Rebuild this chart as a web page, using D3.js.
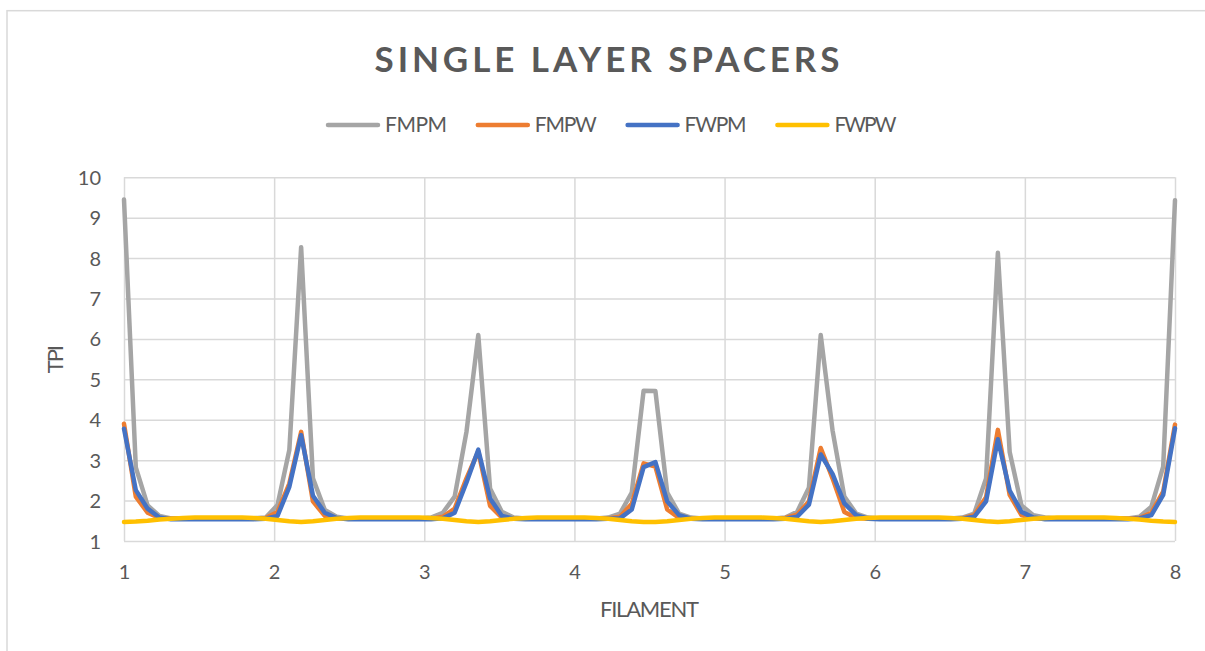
<!DOCTYPE html>
<html>
<head>
<meta charset="utf-8">
<script src="https://cdn.jsdelivr.net/npm/d3@7"></script>
<style>
  html, body { margin: 0; padding: 0; background: #ffffff; }
  svg { display: block; }
  text { font-family: Lato, "Open Sans", sans-serif; fill: #595959; }
</style>
</head>
<body>
<svg id="chart" width="1205" height="651"></svg>
<script>
// Filament axis ticks and TPI axis ticks
const filamentTicks = [1, 2, 3, 4, 5, 6, 7, 8];
const tpiTicks = [1, 2, 3, 4, 5, 6, 7, 8, 9, 10];
const seriesNames = ["FMPM", "FMPW", "FWPM", "FWPW"];
const seriesColors = ["#A5A5A5", "#ED7D31", "#4472C4", "#FFC000"];

// TPI readings, 90 samples spread evenly from filament 1 to filament 8
const fmpm = [
  9.45, 2.82, 1.88, 1.62, 1.56, 1.56, 1.56, 1.56, 1.56, 1.56,
  1.56, 1.56, 1.58, 1.89, 3.25, 8.27, 2.55, 1.77, 1.60, 1.56,
  1.56, 1.56, 1.56, 1.56, 1.56, 1.56, 1.58, 1.70, 2.10, 3.70,
  6.10, 2.30, 1.72, 1.58, 1.56, 1.56, 1.56, 1.56, 1.56, 1.56,
  1.56, 1.58, 1.68, 2.20, 4.72, 4.71, 2.20, 1.68, 1.58, 1.56,
  1.56, 1.56, 1.56, 1.56, 1.56, 1.56, 1.58, 1.72, 2.32, 6.10,
  3.74, 2.10, 1.68, 1.58, 1.56, 1.56, 1.56, 1.56, 1.56, 1.56,
  1.56, 1.58, 1.68, 2.55, 8.13, 3.20, 1.88, 1.64, 1.58, 1.56,
  1.56, 1.56, 1.56, 1.56, 1.56, 1.56, 1.60, 1.85, 2.84, 9.43
];
const fmpw = [
  3.90, 2.10, 1.70, 1.57, 1.55, 1.55, 1.55, 1.55, 1.55, 1.55,
  1.55, 1.55, 1.57, 1.72, 2.42, 3.70, 1.98, 1.62, 1.56, 1.55,
  1.55, 1.55, 1.55, 1.55, 1.55, 1.55, 1.55, 1.60, 1.80, 2.55,
  3.22, 1.87, 1.58, 1.55, 1.55, 1.55, 1.55, 1.55, 1.55, 1.55,
  1.55, 1.56, 1.60, 1.92, 2.92, 2.84, 1.78, 1.57, 1.55, 1.55,
  1.55, 1.55, 1.55, 1.55, 1.55, 1.55, 1.57, 1.65, 1.98, 3.30,
  2.55, 1.72, 1.57, 1.55, 1.55, 1.55, 1.55, 1.55, 1.55, 1.55,
  1.55, 1.56, 1.64, 2.08, 3.75, 2.14, 1.64, 1.56, 1.55, 1.55,
  1.55, 1.55, 1.55, 1.55, 1.55, 1.55, 1.57, 1.70, 2.22, 3.88
];
const fwpm = [
  3.78, 2.26, 1.80, 1.58, 1.54, 1.54, 1.54, 1.54, 1.54, 1.54,
  1.54, 1.54, 1.55, 1.62, 2.34, 3.62, 2.12, 1.70, 1.57, 1.54,
  1.54, 1.54, 1.54, 1.54, 1.54, 1.54, 1.54, 1.56, 1.70, 2.45,
  3.26, 2.05, 1.62, 1.55, 1.54, 1.54, 1.54, 1.54, 1.54, 1.54,
  1.54, 1.55, 1.56, 1.78, 2.83, 2.95, 1.98, 1.64, 1.55, 1.54,
  1.54, 1.54, 1.54, 1.54, 1.54, 1.54, 1.55, 1.60, 1.90, 3.14,
  2.66, 1.93, 1.64, 1.55, 1.54, 1.54, 1.54, 1.54, 1.54, 1.54,
  1.54, 1.55, 1.60, 1.98, 3.52, 2.25, 1.72, 1.58, 1.54, 1.54,
  1.54, 1.54, 1.54, 1.54, 1.54, 1.54, 1.56, 1.64, 2.14, 3.79
];
const fwpw = [
  1.47, 1.48, 1.50, 1.53, 1.55, 1.57, 1.58, 1.58, 1.58, 1.58,
  1.58, 1.57, 1.55, 1.52, 1.49, 1.47, 1.49, 1.52, 1.55, 1.57,
  1.58, 1.58, 1.58, 1.58, 1.58, 1.58, 1.57, 1.55, 1.52, 1.49,
  1.47, 1.49, 1.52, 1.55, 1.57, 1.58, 1.58, 1.58, 1.58, 1.58,
  1.57, 1.55, 1.52, 1.49, 1.47, 1.47, 1.49, 1.52, 1.55, 1.57,
  1.58, 1.58, 1.58, 1.58, 1.58, 1.57, 1.55, 1.52, 1.49, 1.47,
  1.49, 1.52, 1.55, 1.57, 1.58, 1.58, 1.58, 1.58, 1.58, 1.58,
  1.57, 1.55, 1.52, 1.49, 1.47, 1.49, 1.52, 1.55, 1.57, 1.58,
  1.58, 1.58, 1.58, 1.58, 1.57, 1.55, 1.53, 1.50, 1.48, 1.47
];
const seriesValues = [fmpm, fmpw, fwpm, fwpw];

const svg = d3.select("#chart");
const plot = { left: 124, right: 1175, top: 177.3, bottom: 541 };

// Outer chart frame (runs off the right and bottom edges)
svg.append("rect")
  .attr("x", 7).attr("y", 10.7)
  .attr("width", 1220).attr("height", 660)
  .attr("fill", "none").attr("stroke", "#D9D9D9").attr("stroke-width", 1.5);

const x = d3.scaleLinear().domain([1, 8]).range([plot.left, plot.right]);
const y = d3.scaleLinear().domain([1, 10]).range([plot.bottom, plot.top]);
const sampleToFilament = d3.scaleLinear().domain([0, fmpm.length - 1]).range([1, 8]);

// Gridlines
svg.append("g")
  .attr("transform", `translate(0,${plot.bottom})`)
  .call(d3.axisBottom(x).tickValues(filamentTicks).tickSize(-(plot.bottom - plot.top)).tickFormat(""))
  .call(g => g.select(".domain").remove())
  .call(g => g.selectAll("line").attr("stroke", "#D9D9D9").attr("stroke-width", 1.5));
svg.append("g")
  .attr("transform", `translate(${plot.left},0)`)
  .call(d3.axisLeft(y).tickValues(tpiTicks).tickSize(-(plot.right - plot.left)).tickFormat(""))
  .call(g => g.select(".domain").remove())
  .call(g => g.selectAll("line").attr("stroke", "#D9D9D9").attr("stroke-width", 1.5));

// Tick labels
svg.append("g")
  .attr("transform", `translate(0,${plot.bottom + 31})`)
  .call(d3.axisBottom(x).tickValues(filamentTicks).tickSize(0).tickPadding(0).tickFormat(d3.format("d")))
  .call(g => g.select(".domain").remove())
  .call(g => g.selectAll("text")
    .attr("dy", "0.35em")
    .style("font-family", "Lato, 'Open Sans', sans-serif")
    .style("font-size", "20px").attr("fill", "#595959"));
svg.append("g")
  .attr("transform", `translate(${plot.left - 23},0)`)
  .call(d3.axisLeft(y).tickValues(tpiTicks).tickSize(0).tickPadding(0).tickFormat(d3.format("d")))
  .call(g => g.select(".domain").remove())
  .call(g => g.selectAll("text")
    .attr("dy", "0.35em")
    .style("font-family", "Lato, 'Open Sans', sans-serif")
    .style("font-size", "20px").attr("fill", "#595959"));

// Series lines
const line = d3.line()
  .x((d, i) => x(sampleToFilament(i)))
  .y(d => y(d));
svg.append("g")
  .selectAll("path")
  .data(seriesValues)
  .join("path")
  .attr("d", d => line(d))
  .attr("fill", "none")
  .attr("stroke", (d, i) => seriesColors[i])
  .attr("stroke-width", 4.5)
  .attr("stroke-linejoin", "round")
  .attr("stroke-linecap", "round");

// Title
svg.append("text")
  .attr("x", 607).attr("y", 71.7)
  .attr("text-anchor", "middle")
  .attr("textLength", 465).attr("lengthAdjust", "spacing")
  .style("font-size", "35px").style("font-weight", "700")
  .text("SINGLE LAYER SPACERS");

// Legend
const legend = svg.append("g").attr("transform", "translate(326,125)");
const item = legend.selectAll("g")
  .data(seriesNames)
  .join("g")
  .attr("transform", (d, i) => `translate(${i * 149.8},0)`);
item.append("line")
  .attr("x1", 2).attr("x2", 52).attr("y1", 0).attr("y2", 0)
  .attr("stroke", (d, i) => seriesColors[i])
  .attr("stroke-width", 4.5).attr("stroke-linecap", "round");
item.append("text")
  .attr("x", 59).attr("y", 0).attr("dy", "0.35em")
  .attr("textLength", 62).attr("lengthAdjust", "spacing")
  .style("font-size", "21px")
  .text(d => d);

// Axis titles
svg.append("text")
  .attr("x", (plot.left + plot.right) / 2).attr("y", 609.7).attr("dy", "0.35em")
  .attr("text-anchor", "middle")
  .attr("textLength", 99).attr("lengthAdjust", "spacing")
  .style("font-size", "22px")
  .text("FILAMENT");
svg.append("text")
  .attr("transform", `translate(55,${(plot.top + plot.bottom) / 2}) rotate(-90)`)
  .attr("dy", "0.35em")
  .attr("text-anchor", "middle")
  .attr("textLength", 28).attr("lengthAdjust", "spacing")
  .style("font-size", "22px")
  .text("TPI");
</script>
</body>
</html>
